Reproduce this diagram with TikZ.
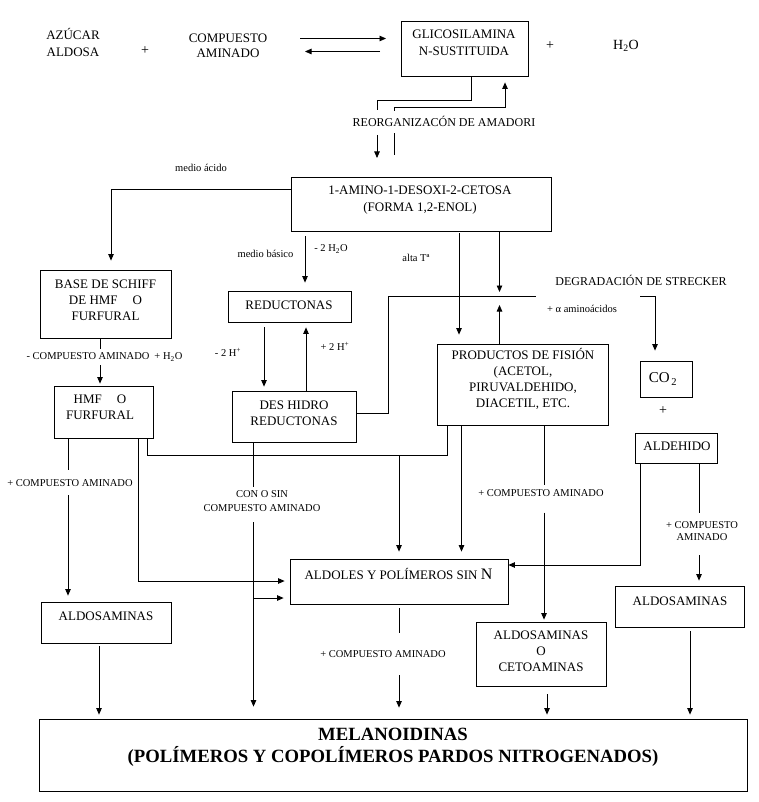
\documentclass[tikz,border=0pt]{standalone}
\usepackage{fontspec}
\setmainfont{Liberation Serif}
\usetikzlibrary{arrows.meta}
\begin{document}
\begin{tikzpicture}[x=1pt,y=-1pt,
  box/.style={draw, line width=0.8pt, inner sep=0pt},
  txt/.style={inner sep=0pt, align=center, font=\fontsize{13}{16}\selectfont},
  txtb/.style={inner sep=0pt, align=center, font=\fontsize{13}{17}\selectfont},
  lbl/.style={inner sep=0pt, align=center, font=\fontsize{10.5}{13.5}\selectfont},
  lblm/.style={inner sep=0pt, align=center, font=\fontsize{12}{14}\selectfont},
  conn/.style={line width=0.8pt},
  arr/.style={conn, -{Triangle[length=6.5pt,width=5.5pt]}}]
\useasboundingbox (0,0) rectangle (758,802);

% ---- top row
\node[txtb] (azucar) at (73,42.5) {AZÚCAR\\ALDOSA};
\node[txt, font=\fontsize{14}{16}\selectfont] (plus1) at (145,51) {+};
\node[txt, font=\fontsize{13}{15}\selectfont] (comp) at (228,45.5) {COMPUESTO\\AMINADO};
\coordinate (ra1) at (300,38.5);
\coordinate (ra2) at (386,38.5);
\coordinate (rb1) at (380,51.5);
\coordinate (rb2) at (305,51.5);
\draw[arr] (ra1) -- (ra2);
\draw[arr] (rb1) -- (rb2);
\node[box, minimum width=127, minimum height=55] (glic) at (464.5,48.5) {};
\node[txtb] (glict) at (464,42.5) {GLICOSILAMINA\\N-SUSTITUIDA};
\node[txt, font=\fontsize{14}{16}\selectfont] (plus2) at (550,45.5) {+};
\node[txt, font=\fontsize{14}{16}\selectfont] (h2o) at (626,45.5) {H\textsubscript{2}O};

% ---- Amadori
\node[lblm] (amad) at (444,121) {REORGANIZACÓN DE AMADORI};
\coordinate (am1) at (377,110);
\coordinate (am2) at (377,135);
\coordinate (am3) at (377,158);
\coordinate (am4) at (394,155);
\coordinate (am5) at (394,133);
\coordinate (am6) at (394,111);
\draw[conn] (glic.south -| 471,0) -- (471,100.5) -- (377,100.5) -- (am1);
\draw[arr] (am2) -- (am3);
\draw[conn] (am4) -- (am5);
\draw[arr, shorten >=6pt] (am6) -- (394,107.5) -- (505,107.5) -- (glic.south -| 505,0);

% ---- 1-amino
\node[lbl] (macido) at (201,168) {medio ácido};
\node[box, minimum width=260, minimum height=54] (amino) at (421,204) {};
\node[txtb] (aminot) at (420,200) {1-AMINO-1-DESOXI-2-CETOSA\\(FORMA 1,2-ENOL)};

% ---- left branch
\node[box, minimum width=131, minimum height=68] (base) at (105.5,304) {};
\node[txt] (baset) at (105.5,300.5) {BASE DE SCHIFF\\DE HMF\hspace{15pt}O\\FURFURAL};
\draw[arr, shorten >=9pt] (amino.west |- 0,189) -- (111,189) -- (base.north -| 111,0);
\coordinate (c1) at (100,348.5);
\coordinate (c2) at (100,365);
\draw[conn] (base.south -| 100,0) -- (c1);
\node[lbl] (lbl1) at (104.5,357) {- COMPUESTO AMINADO\hspace{5pt}+ H\textsubscript{2}O};
\node[box, minimum width=99, minimum height=52] (hmf) at (103.5,412) {};
\node[txt] (hmft) at (100,407) {HMF\hspace{15pt}O\\FURFURAL};
\draw[arr, shorten >=2pt] (c2) -- (hmf.north -| 100,0);

% ---- reductonas
\node[lbl] (mbas) at (265.5,254) {medio básico};
\node[lbl] (h2o2) at (331,249) {- 2 H\textsubscript{2}O};
\node[box, minimum width=123, minimum height=31] (reduc) at (289.5,306.5) {};
\node[txt] (reduct) at (289,305) {REDUCTONAS};
\node[box, minimum width=124, minimum height=51] (desh) at (294,416.5) {};
\node[txt] (desht) at (294,413) {DES HIDRO\\REDUCTONAS};
\draw[arr, shorten <=5pt, shorten >=8pt] (amino.south -| 305,0) -- (reduc.north -| 305,0);
\draw[arr, shorten <=5pt, shorten >=4pt] (reduc.south -| 264,0) -- (desh.north -| 264,0);
\draw[arr, shorten >=5pt] (desh.north -| 306,0) -- (reduc.south -| 306,0);
\node[lbl] (mh) at (228,352) {- 2 H\textsuperscript{+}};
\node[lbl] (ph) at (335,346) {+ 2 H\textsuperscript{+}};

% ---- Strecker
\coordinate (s1) at (536,296.5);
\coordinate (s2) at (640,296.5);
\draw[conn] (desh.east |- 0,413) -- (388.5,413) -- (388.5,296.5) -- (s1);
\node[lblm] (streck) at (641,280) {DEGRADACIÓN DE STRECKER};
\node[lbl] (alfa) at (582,309) {+ α aminoácidos};
\node[box, minimum width=52, minimum height=36] (co2) at (666,379) {};
\node[txt, font=\fontsize{15}{17}\selectfont] (co2t) at (663,379) {CO\textsubscript{\,2}};
\draw[arr, shorten >=10pt] (s2) -- (655,296.5) -- (co2.north -| 655,0);
\node[txt, font=\fontsize{14}{16}\selectfont] (plus3) at (663,411) {+};
\node[box, minimum width=82, minimum height=30] (aldh) at (676,448) {};
\node[txt] (aldht) at (677,446) {ALDEHIDO};

% ---- productos
\node[lbl] (altat) at (416,258) {alta Tª};
\node[box, minimum width=171, minimum height=81] (prod) at (522.5,384.5) {};
\node[txt] (prodt) at (523,379) {PRODUCTOS DE FISIÓN\\(ACETOL,\\PIRUVALDEHIDO,\\DIACETIL, ETC.};
\coordinate (c3) at (499.5,292);
\coordinate (c4) at (499.5,305);
\draw[arr, shorten <=2pt, shorten >=9pt] (amino.south -| 459,0) -- (prod.north -| 459,0);
\draw[arr] (amino.south -| 499.5,0) -- (c3);
\draw[arr] (prod.north -| 499.5,0) -- (c4);

% ---- aldoles
\node[box, minimum width=218, minimum height=45] (aldol) at (399,581.5) {};
\node[txt] (aldolt) at (398.5,574) {ALDOLES Y POLÍMEROS SIN {\fontsize{16}{16}\selectfont N}};

% ---- HMF lines
\coordinate (c5) at (68,470);
\coordinate (c6) at (68,495);
\coordinate (j1) at (399,455);
\draw[conn] (hmf.south -| 68,0) -- (c5);
\node[lbl] (lbl2) at (70,483) {+ COMPUESTO AMINADO};
\node[box, minimum width=130, minimum height=41] (ald1) at (106,622.5) {};
\node[txt] (ald1t) at (106,616) {ALDOSAMINAS};
\draw[arr, shorten >=6pt] (c6) -- (ald1.north -| 68,0);
\draw[arr, shorten >=5pt] (hmf.south -| 138,0) -- (138,581) -- (aldol.west |- 0,581);
\draw[conn] (hmf.south -| 147,0) -- (147,455) -- (447,455) -- (prod.south -| 447,0);
\draw[arr, shorten >=7pt] (j1) -- (aldol.north -| 399,0);
\draw[arr, shorten >=7pt] (prod.south -| 461.5,0) -- (aldol.north -| 461.5,0);

% ---- melanoidinas
\node[box, minimum width=708, minimum height=72] (mel) at (393,755) {};
\node[inner sep=0pt, align=center, font=\fontsize{18.7}{21.5}\selectfont\bfseries] (melt) at (393,747.5) {MELANOIDINAS\\(POLÍMEROS Y COPOLÍMEROS PARDOS NITROGENADOS)};

% ---- des hidro bottom
\coordinate (c7) at (253.5,487);
\coordinate (c8) at (253.5,522);
\coordinate (j2) at (253.5,598);
\draw[conn] (desh.south -| 253.5,0) -- (c7);
\node[lbl] (lbl3) at (262,501) {CON O SIN\\COMPUESTO AMINADO};
\draw[arr, shorten >=12pt] (c8) -- (mel.north -| 253.5,0);
\draw[arr, shorten >=6pt] (j2) -- (aldol.west |- 0,598);

% ---- aldehido lines
\coordinate (c9) at (699,512.5);
\coordinate (c10) at (699,555);
\draw[arr] (aldh.south -| 640,0) -- (640,565) -- (aldol.east |- 0,565);
\draw[conn] (aldh.south -| 699,0) -- (c9);
\node[lbl, font=\fontsize{10.5}{12.5}\selectfont] (lbl4) at (702,531) {+ COMPUESTO\\AMINADO};
\node[box, minimum width=129, minimum height=41] (ald3) at (679.5,606.5) {};
\node[txt] (ald3t) at (680,601) {ALDOSAMINAS};
\draw[arr, shorten >=5pt] (c10) -- (ald3.north -| 699,0);

% ---- productos x 544
\coordinate (c11) at (544,485);
\coordinate (c12) at (544,512.5);
\draw[conn] (prod.south -| 544,0) -- (c11);
\node[lbl] (lbl5) at (541,493.5) {+ COMPUESTO AMINADO};
\node[box, minimum width=130, minimum height=64] (ceto) at (541,654) {};
\node[txt] (cetot) at (541,651) {ALDOSAMINAS\\O\\CETOAMINAS};
\draw[arr, shorten >=2pt] (c12) -- (ceto.north -| 544,0);

% ---- aldoles bottom
\coordinate (c13) at (399,633);
\coordinate (c14) at (399,675);
\draw[conn, shorten <=4pt] (aldol.south -| 399,0) -- (c13);
\node[lbl] (lbl6) at (383,654) {+ COMPUESTO AMINADO};
\draw[arr, shorten >=11pt] (c14) -- (mel.north -| 399,0);

% ---- into melanoidinas
\draw[arr, shorten <=3pt, shorten >=4pt] (ald1.south -| 99,0) -- (mel.north -| 99,0);
\draw[arr, shorten <=8pt, shorten >=4pt] (ceto.south -| 547,0) -- (mel.north -| 547,0);
\draw[arr, shorten <=4pt, shorten >=4pt] (ald3.south -| 690,0) -- (mel.north -| 690,0);
\end{tikzpicture}
\end{document}
